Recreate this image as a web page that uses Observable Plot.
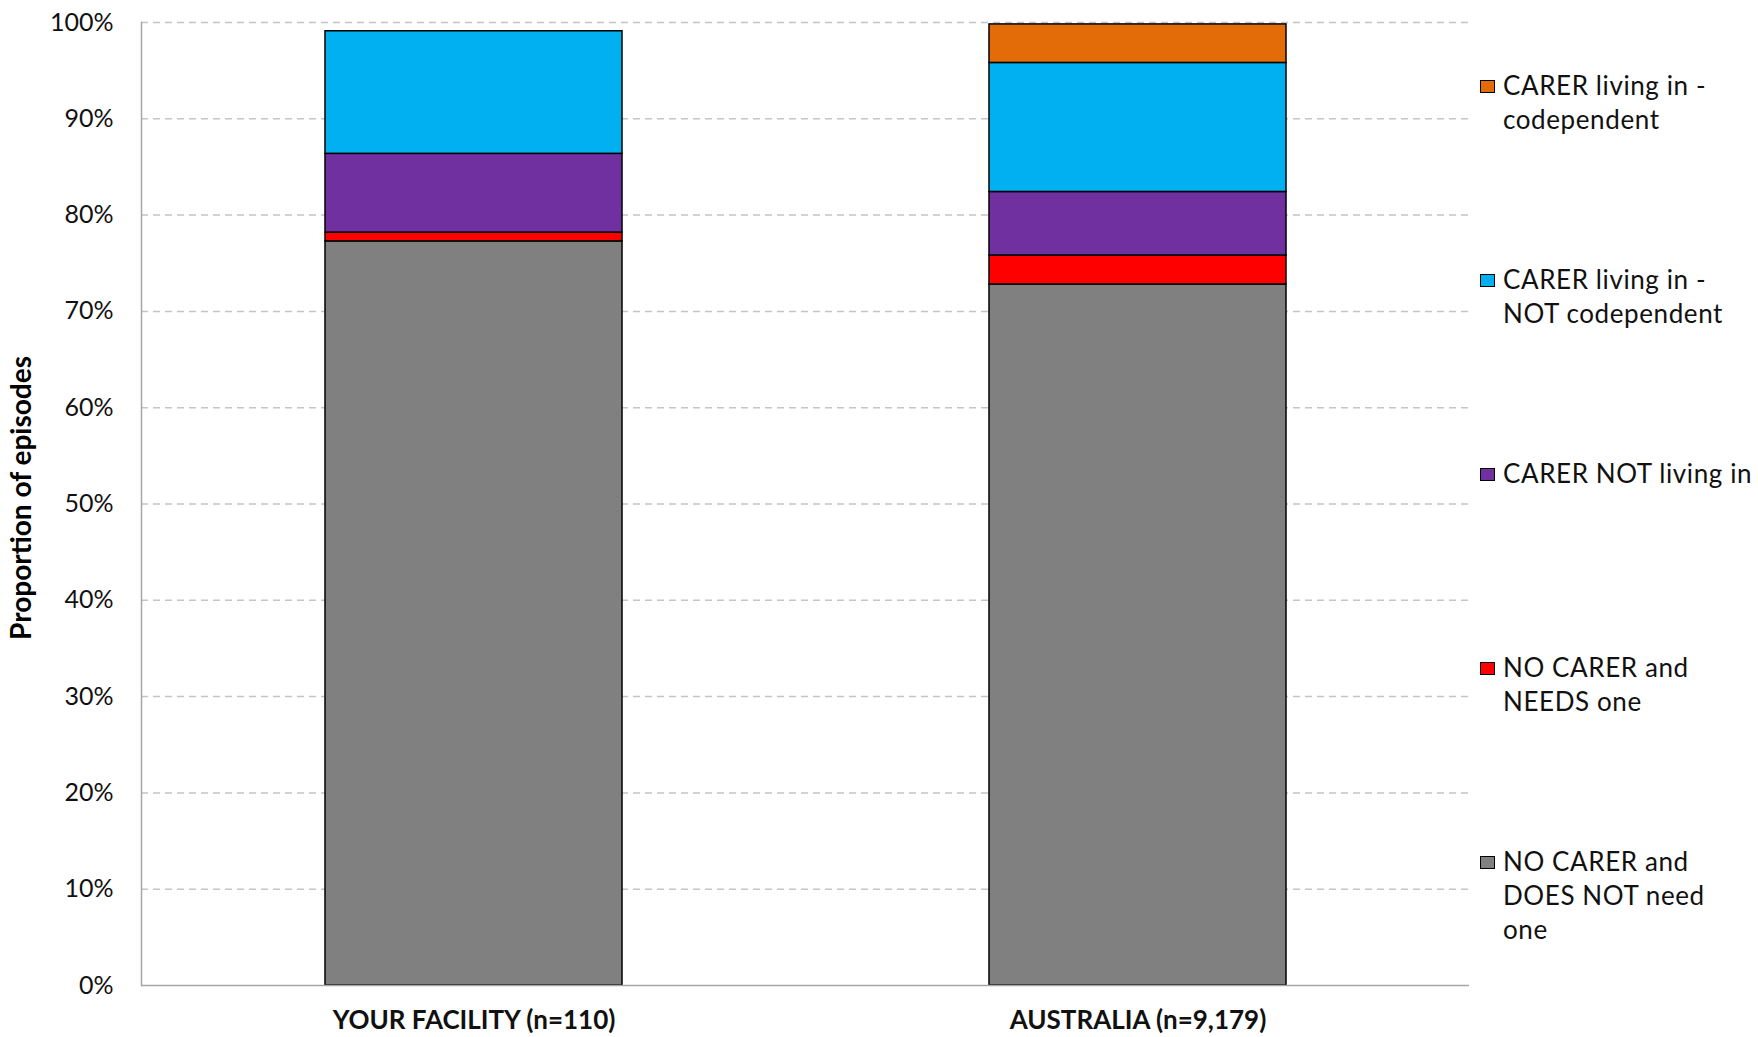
<!DOCTYPE html>
<html>
<head>
<meta charset="utf-8">
<script src="https://cdn.jsdelivr.net/npm/d3@7"></script>
<script src="https://cdn.jsdelivr.net/npm/@observablehq/plot@0.6"></script>
<style>
  html, body { margin: 0; padding: 0; background: #fff; }
  #wrap { position: relative; width: 1758px; height: 1037px; overflow: hidden; }
  #chart { position: absolute; left: 0; top: 0; }
  #legend { position: absolute; left: 0; top: 0; font-family: Lato, "Open Sans", sans-serif; font-size: 26px; letter-spacing: 0.6px; line-height: 34px; color: #111; }
  .item { position: absolute; left: 1503px; white-space: nowrap; }
  .sw { position: absolute; left: -23px; top: 12px; width: 13px; height: 11px; border: 1.5px solid #000; }
</style>
</head>
<body>
<div id="wrap"><div id="chart"></div><div id="legend"></div></div>
<script>
// Categories (bars)
const groups = ["YOUR FACILITY (n=110)", "AUSTRALIA (n=9,179)"];
// Series, bottom to top in the stack
const series = [
  "NO CARER and DOES NOT need one",
  "NO CARER and NEEDS one",
  "CARER NOT living in",
  "CARER living in - NOT codependent",
  "CARER living in - codependent"
];
const colors = ["#808080", "#ff0000", "#7030a0", "#00b0f0", "#e36c09"];
// Proportions per series: [facility, australia]
const noCarerNoNeed = [0.7727, 0.728];
const noCarerNeeds = [0.0091, 0.030];
const carerNotLiving = [0.0818, 0.066];
const carerLivingNotCodep = [0.1273, 0.134];
const carerLivingCodep = [0.0, 0.040];
const yTicks = [0, 0.1, 0.2, 0.3, 0.4, 0.5, 0.6, 0.7, 0.8, 0.9, 1.0];
// Legend labels, top to bottom, each split into lines
const legendLines = [
  ["CARER living in -", "codependent"],
  ["CARER living in -", "NOT codependent"],
  ["CARER NOT living in"],
  ["NO CARER and", "NEEDS one"],
  ["NO CARER and", "DOES NOT need", "one"]
];
const legendColors = ["#e36c09", "#00b0f0", "#7030a0", "#ff0000", "#808080"];

const valuesBySeries = [noCarerNoNeed, noCarerNeeds, carerNotLiving, carerLivingNotCodep, carerLivingCodep];
const data = [];
series.forEach((s, si) => {
  groups.forEach((g, gi) => {
    const v = valuesBySeries[si][gi];
    if (v > 0) data.push({group: g, series: s, value: v});
  });
});

const W = 1480, H = 1037;
const plot = Plot.plot({
  width: W,
  height: H,
  marginLeft: 141,
  marginRight: 11,
  marginTop: 22,
  marginBottom: 52,
  style: {fontFamily: "Lato, 'Open Sans', sans-serif", background: "#fff", color: "#111"},
  x: {domain: groups, paddingInner: 0.553, paddingOuter: 0.2765, label: null},
  y: {domain: [0, 1], label: null},
  color: {domain: series, range: colors},
  marks: [
    Plot.ruleY(yTicks.filter(d => d > 0), {stroke: "#c4c4c4", strokeWidth: 1.5, strokeDasharray: "7,5"}),
    Plot.barY(data, {x: "group", y: "value", fill: "series", order: null, stroke: "#000", strokeWidth: 1.5}),
    Plot.frame({anchor: "left", stroke: "#a6a6a6", strokeWidth: 1.5}),
    Plot.ruleY([0], {stroke: "#a6a6a6", strokeWidth: 1.5}),
    Plot.axisY({ticks: yTicks, tickFormat: d3.format(".0%"), tickSize: 0, tickPadding: 28, fontSize: 25, label: null}),
    Plot.axisX({tickSize: 0, tickPadding: 25, fontSize: 26, fontWeight: "bold", label: null}),
    Plot.text(["Proportion of episodes"], {frameAnchor: "left", textAnchor: "middle", rotate: -90, dx: -119, dy: -6, fontSize: 28, fontWeight: "bold", fill: "#000"})
  ]
});
document.getElementById("chart").appendChild(plot);

const legend = document.getElementById("legend");
legendLines.forEach((lines, i) => {
  const div = document.createElement("div");
  div.className = "item";
  div.style.top = (68 + i * 194) + "px";
  div.innerHTML = lines.join("<br>");
  const sw = document.createElement("div");
  sw.className = "sw";
  sw.style.background = legendColors[i];
  div.appendChild(sw);
  legend.appendChild(div);
});
</script>
</body>
</html>
